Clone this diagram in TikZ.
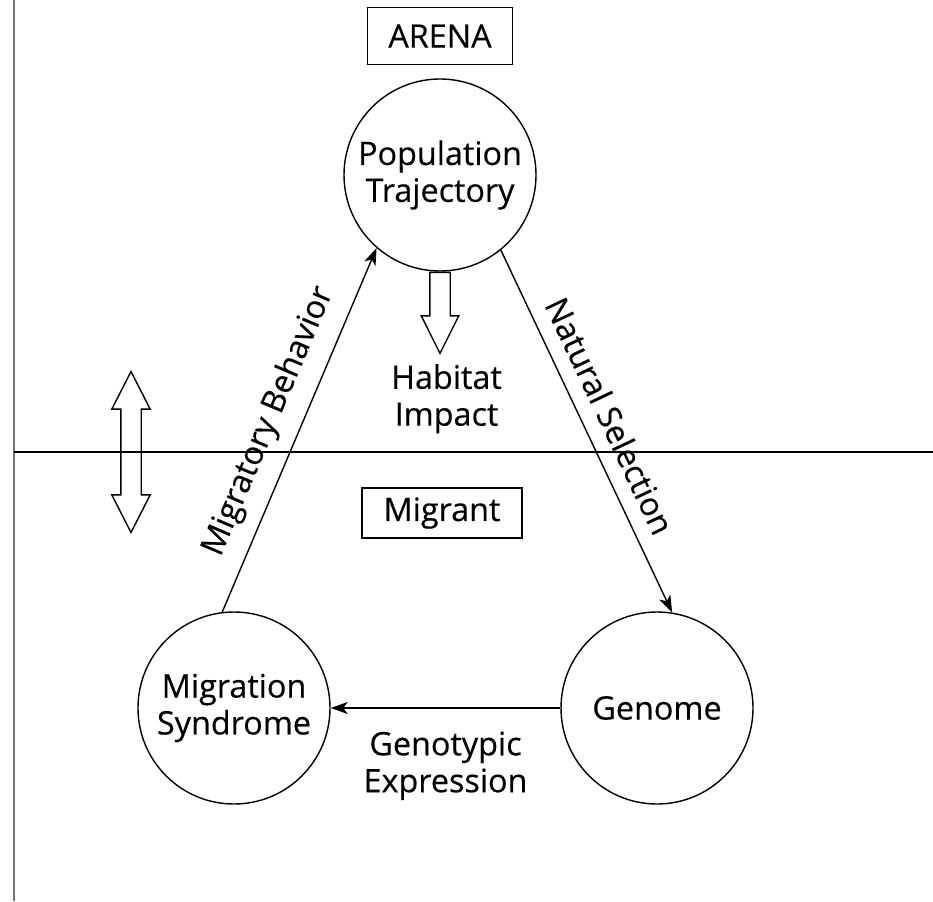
\documentclass[tikz,border=0pt]{standalone}
\usepackage{fontspec}
\setmainfont{Open Sans}[FakeBold=0.35]
\usetikzlibrary{arrows.meta,positioning,shapes.arrows}

\begin{document}
\begin{tikzpicture}[
      node distance=0.3cm and 0.3cm,
      >={Stealth[length=3.4mm,width=2.4mm,inset=0.9mm]},
      font=\fontsize{18.4}{21}\selectfont,
      box/.style={draw, line width=0.9pt, minimum width=3.2cm, minimum height=1cm,
        inner sep=0pt},
      circ/.style={draw, circle, line width=0.8pt, minimum size=3.84cm, align=center,
        inner sep=0pt},
      flow/.style={->, line width=0.8pt},
      rule/.style={line width=0.8pt},
      hollow/.style={draw, line width=0.8pt, inner sep=0.19cm}
    ]
    \useasboundingbox (0,0) rectangle (18.66,-18.02);

    % frame lines
    \coordinate (ntop) at (0.28,0);
    \coordinate (nbot) at (0.28,-18.02);
    \coordinate (wleft) at (0.28,-9.04);
    \coordinate (wright) at (18.66,-9.04);
    \draw[rule, black!55, line width=1.1pt] (ntop) -- (nbot);
    \draw[rule] (wleft) -- (wright);

    \node[circ] (pop) at (8.8,-3.5) {Population\\Trajectory};
    \node[box, above=0.26cm of pop, minimum width=2.9cm, minimum height=1.14cm] (arena) {ARENA};
    \node[circ] (mig) at (4.68,-14.16) {Migration\\Syndrome};
    \node[circ] (gen) at (13.14,-14.16) {Genome};
    \node[box] (migrant) at (8.84,-10.26) {Migrant};

    \node[hollow, single arrow, rotate=-90, anchor=tail, minimum height=1.62cm,
      single arrow head extend=0.17cm, single arrow tip angle=53] (hab) at (pop.south) {};
    \node[align=center, below=0.06cm of hab.tip, xshift=0.13cm] (habtxt) {Habitat\\Impact};

    \node[hollow, double arrow, rotate=90, minimum height=3.22cm,
      double arrow head extend=0.18cm, double arrow tip angle=54] (updown) at (2.62,-9.04) {};

    \draw[flow] (mig.97) -- node[sloped, above=5pt, pos=0.49] (beh) {Migratory Behavior} (pop.229);
    \draw[flow] (pop.309) -- node[sloped, above=5pt, pos=0.49] (sel) {Natural Selection} (gen.81);
    \draw[flow] (gen) -- node[below=0.34cm, align=center] (expr) {Genotypic\\Expression} (mig);
  \end{tikzpicture}
\end{document}
